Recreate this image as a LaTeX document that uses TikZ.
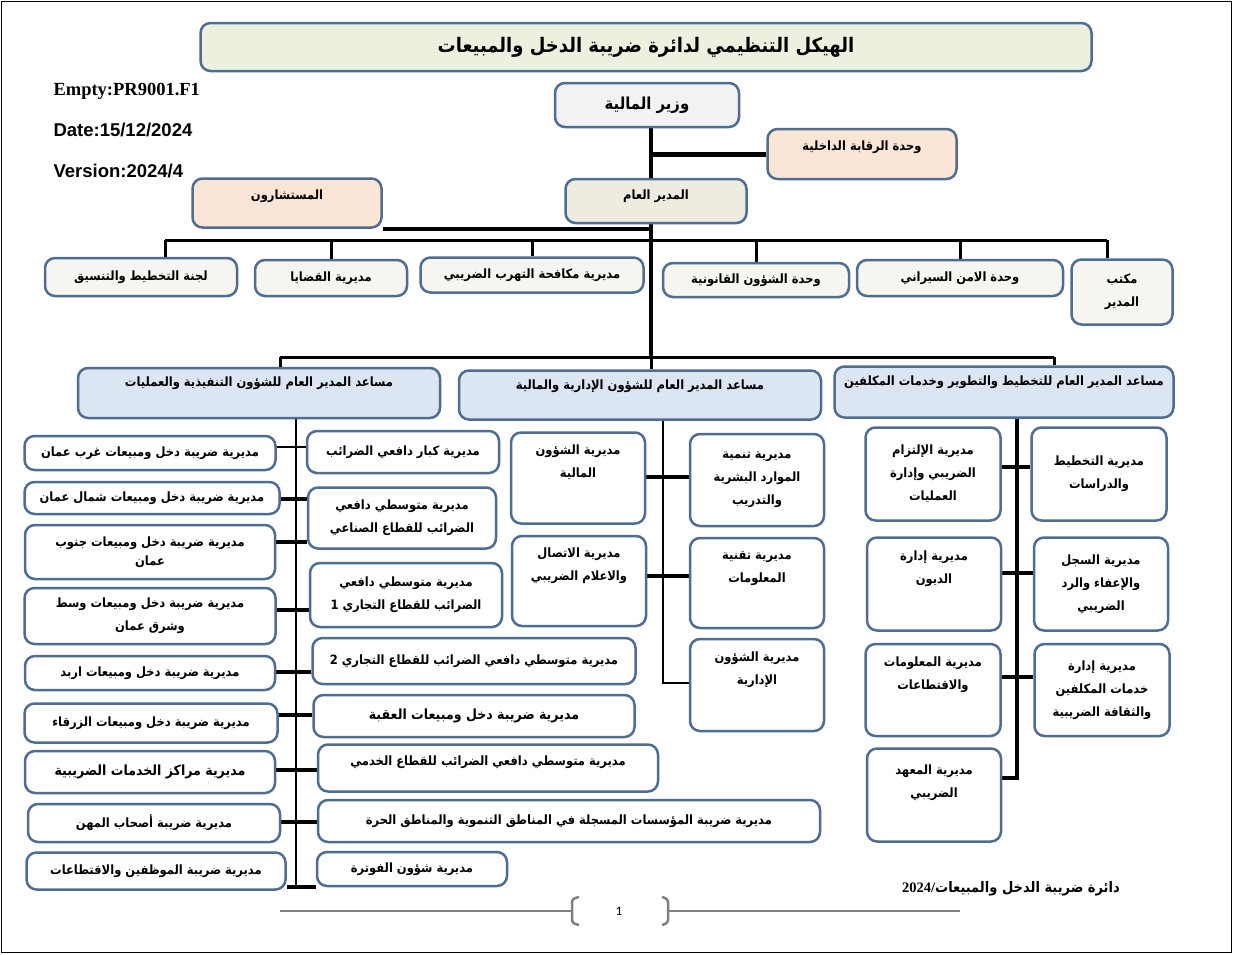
\documentclass[tikz,border=0pt]{standalone}
\usepackage{fontspec}
\setmainfont{Liberation Sans}
\newfontfamily\arabicfont[Script=Arabic, FakeStretch=0.9]{DejaVu Sans}
\newfontfamily\timesfont{Liberation Serif}
\newfontfamily\calfont{Carlito}
\TeXXeTstate=1
\usetikzlibrary{backgrounds}

\definecolor{boxline}{HTML}{4F6C91}
\definecolor{titlefill}{HTML}{EBF1DE}
\definecolor{ministerfill}{HTML}{F2F2F2}
\definecolor{peachfill}{HTML}{FBE5D6}
\definecolor{gdfill}{HTML}{EEECE1}
\definecolor{unitfill}{HTML}{F7F5EF}
\definecolor{asstfill}{HTML}{DCE6F2}
\definecolor{pagegray}{HTML}{808080}

\newcommand{\artext}[1]{\beginR #1\endR}
\newcommand{\boxfont}{\arabicfont\bfseries\fontsize{12.8}{23}\selectfont}
\newcommand{\bigboxfont}{\arabicfont\bfseries\fontsize{14}{23}\selectfont}

\tikzset{
  orgbox/.style={draw=boxline, line width=2.5pt, rounded corners=10pt, fill=white,
    align=center, inner sep=2pt, font=\boxfont},
  upper/.style={text depth=#1},
  upper/.default=33pt,
  link/.style={line width=3.5pt},
  bus/.style={line width=3pt},
}

\begin{document}
\begin{tikzpicture}[x=1pt,y=-1pt]
\useasboundingbox (0,0) rectangle (1237,954);
\draw[line width=1pt] (1,1) rectangle (1231,952);

% heading and reference texts
\node[orgbox, fill=titlefill, minimum width=891, minimum height=48,
  font=\arabicfont\bfseries\fontsize{20}{24}\selectfont] (title) at (646,47)
  {\artext{الهيكل التنظيمي لدائرة ضريبة الدخل والمبيعات}};
\node[anchor=west, font=\timesfont\bfseries\fontsize{18.5}{20}\selectfont] (docno) at (50,91) {Empty:PR9001.F1};
\node[anchor=west, font=\bfseries\fontsize{18.5}{20}\selectfont] (docdate) at (50,130) {Date:15/12/2024};
\node[anchor=west, font=\bfseries\fontsize{18.5}{20}\selectfont] (docver) at (50,171) {Version:2024/4};

% top management
\node[orgbox, fill=ministerfill, minimum width=184, minimum height=44,
  font=\arabicfont\bfseries\fontsize{16.5}{23}\selectfont] (minister) at (647,105) {\artext{وزير المالية}};
\node[orgbox, fill=peachfill, minimum width=189, minimum height=50, upper=16pt] (control) at (862,154) {\artext{وحدة الرقابة الداخلية}};
\node[orgbox, fill=gdfill, minimum width=181, minimum height=44, upper=12pt] (gd) at (656,201) {\artext{المدير العام}};
\node[orgbox, fill=peachfill, minimum width=189, minimum height=49, upper=16pt] (advisors) at (287,203) {\artext{المستشارون}};

% units under the director general
\node[orgbox, fill=unitfill, minimum width=192, minimum height=38] (u1) at (141,277) {\artext{لجنة التخطيط والتنسيق}};
\node[orgbox, fill=unitfill, minimum width=152, minimum height=36] (u2) at (331,278) {\artext{مديرية  القضايا}};
\node[orgbox, fill=unitfill, minimum width=223, minimum height=35] (u3) at (532,275) {\artext{مديرية مكافحة التهرب الضريبي}};
\node[orgbox, fill=unitfill, minimum width=186, minimum height=34] (u4) at (756,280) {\artext{وحدة الشؤون القانونية}};
\node[orgbox, fill=unitfill, minimum width=206, minimum height=36] (u5) at (960,278) {\artext{وحدة الامن السيراني}};
\node[orgbox, fill=unitfill, minimum width=101, minimum height=65] (u6) at (1122,292) {\artext{مكتب}\\\artext{المدير}};

% assistants
\node[orgbox, fill=asstfill, minimum width=362, minimum height=50, upper=22pt] (A1) at (259,393) {\artext{مساعد المدير العام للشؤون التنفيذية والعمليات}};
\node[orgbox, fill=asstfill, minimum width=362, minimum height=49, upper=20pt] (A2) at (640,395) {\artext{مساعد المدير العام للشؤون الإدارية والمالية}};
\node[orgbox, fill=asstfill, minimum width=339, minimum height=51, upper=22pt] (A3) at (1004,392) {\artext{مساعد المدير العام للتخطيط والتطوير وخدمات المكلفين}};

% executive affairs and operations
\node[orgbox, minimum width=251, minimum height=34] (L1) at (150,453) {\artext{مديرية ضريبة دخل ومبيعات غرب عمان}};
\node[orgbox, minimum width=255, minimum height=32] (L2) at (152,498) {\artext{مديرية ضريبة دخل ومبيعات شمال عمان}};
\node[orgbox, minimum width=250, minimum height=54] (L3) at (150,552) {\artext{مديرية ضريبة دخل ومبيعات جنوب}\\[-4pt]\artext{عمان}};
\node[orgbox, minimum width=251, minimum height=56] (L4) at (150,616) {\artext{مديرية ضريبة دخل ومبيعات وسط}\\\artext{وشرق عمان}};
\node[orgbox, minimum width=250, minimum height=34] (L5) at (150,673) {\artext{مديرية ضريبة دخل ومبيعات اربد}};
\node[orgbox, minimum width=253, minimum height=39] (L6) at (151,723) {\artext{مديرية ضريبة دخل ومبيعات الزرقاء}};
\node[orgbox, minimum width=250, minimum height=42, font=\bigboxfont] (L7) at (150,772) {\artext{مديرية مراكز الخدمات الضريبية}};
\node[orgbox, minimum width=252, minimum height=38] (L8) at (154,823) {\artext{مديرية ضريبة أصحاب المهن}};
\node[orgbox, minimum width=259, minimum height=37] (L9) at (156,871) {\artext{مديرية ضريبة الموظفين والاقتطاعات}};

\node[orgbox, minimum width=192, minimum height=42] (R1) at (403,452) {\artext{مديرية كبار دافعي الضرائب}};
\node[orgbox, minimum width=188, minimum height=61] (R2) at (402,518) {\artext{مديرية متوسطي دافعي}\\\artext{الضرائب للقطاع الصناعي}};
\node[orgbox, minimum width=192, minimum height=64] (R3) at (406,595) {\artext{مديرية متوسطي دافعي}\\\artext{الضرائب للقطاع التجاري 1}};
\node[orgbox, minimum width=323, minimum height=46] (R4) at (474,661) {\artext{مديرية متوسطي دافعي الضرائب للقطاع التجاري 2}};
\node[orgbox, minimum width=321, minimum height=42, font=\bigboxfont] (R5) at (474,716) {\artext{مديرية ضريبة دخل ومبيعات العقبة}};
\node[orgbox, minimum width=340, minimum height=47, upper=14pt] (R6) at (488,768) {\artext{مديرية متوسطي دافعي الضرائب للقطاع الخدمي}};
\node[orgbox, minimum width=502, minimum height=42] (R7) at (569,821) {\artext{مديرية ضريبة المؤسسات المسجلة في المناطق التنموية والمناطق الحرة}};
\node[orgbox, minimum width=190, minimum height=34] (R8) at (412,869) {\artext{مديرية شؤون الفوترة}};

% administrative and financial affairs
\node[orgbox, minimum width=134, minimum height=91, upper] (M1) at (578,478) {\artext{مديرية الشؤون}\\\artext{المالية}};
\node[orgbox, minimum width=134, minimum height=92] (M2) at (757,480) {\artext{مديرية تنمية}\\\artext{الموارد البشرية}\\\artext{والتدريب}};
\node[orgbox, minimum width=134, minimum height=90, upper] (M3) at (579,581) {\artext{مديرية الاتصال}\\\artext{والاعلام الضريبي}};
\node[orgbox, minimum width=134, minimum height=90, upper] (M4) at (757,583) {\artext{مديرية تقنية}\\\artext{المعلومات}};
\node[orgbox, minimum width=134, minimum height=92, upper] (M5) at (757,685) {\artext{مديرية الشؤون}\\\artext{الإدارية}};

% planning, development and taxpayer services
\node[orgbox, minimum width=135, minimum height=93] (P1) at (933,474) {\artext{مديرية الإلتزام}\\\artext{الضريبي وإدارة}\\\artext{العمليات}};
\node[orgbox, minimum width=135, minimum height=93] (P2) at (1099,474) {\artext{مديرية التخطيط}\\\artext{والدراسات}};
\node[orgbox, minimum width=134, minimum height=93, upper] (P3) at (934,584) {\artext{مديرية إدارة}\\\artext{الديون}};
\node[orgbox, minimum width=134, minimum height=93] (P4) at (1101,584) {\artext{مديرية السجل}\\\artext{والإعفاء والرد}\\\artext{الضريبي}};
\node[orgbox, minimum width=135, minimum height=92, upper] (P5) at (933,690) {\artext{مديرية المعلومات}\\\artext{والاقتطاعات}};
\node[orgbox, minimum width=135, minimum height=92] (P6) at (1102,690) {\artext{مديرية إدارة}\\\artext{خدمات المكلفين}\\\artext{والثقافة الضريبية}};
\node[orgbox, minimum width=134, minimum height=93, upper=28pt] (P7) at (934,795) {\artext{مديرية المعهد}\\\artext{الضريبي}};

% footer
\node[font=\bfseries\fontsize{14.5}{18}\selectfont] (foot) at (1011,889)
  {{\timesfont 2024/}{\arabicfont\artext{دائرة ضريبة الدخل والمبيعات}}};
\node[font=\calfont\fontsize{13}{15}\selectfont] (pageno) at (619,911) {1};
\coordinate (pgL) at (280,911);
\coordinate (pgR) at (960,911);
\draw[pagegray, line width=1.5pt] (pgL) -- ([xshift=-46]pageno.center);
\draw[pagegray, line width=1.5pt] ([xshift=49]pageno.center) -- (pgR);
\draw[pagegray, line width=2.5pt, rounded corners=3pt]
  ([xshift=-40,yshift=-14]pageno.center) -- ([xshift=-47,yshift=-12]pageno.center)
  -- ([xshift=-47,yshift=12]pageno.center) -- ([xshift=-40,yshift=14]pageno.center);
\draw[pagegray, line width=2.5pt, rounded corners=3pt]
  ([xshift=43,yshift=-14]pageno.center) -- ([xshift=49,yshift=-12]pageno.center)
  -- ([xshift=49,yshift=12]pageno.center) -- ([xshift=43,yshift=14]pageno.center);

% connectors
\begin{pgfonlayer}{background}
  \coordinate (trunk) at (651,357);
  \draw[link, line width=4.5pt] (minister.south -| trunk) -- (trunk);
  \draw[link, line width=5pt] (control.west) -- (control.west -| trunk);
  \draw[link] (advisors.south east) -- (advisors.south east -| trunk);
  % director general units
  \coordinate (busL) at (165,240);
  \coordinate (busR) at (1107,240);
  \draw[bus] (busL) -- (busR);
  \draw[bus] (busL) -- (busL |- u1.north);
  \foreach \u in {u2,u3,u4,u5}
    \draw[bus] (\u.north) -- (\u.north |- busL);
  \draw[bus] (busR) -- (busR |- u6.north);
  % assistants
  \coordinate (abL) at (280,357);
  \coordinate (abR) at (1054,357);
  \draw[bus] (abL) -- (abR);
  \draw[bus] (abL) -- (abL |- A1.north);
  \draw[bus] (trunk) -- (trunk |- A2.north);
  \draw[bus] (abR) -- (abR |- A3.north);
  % executive affairs spine
  \coordinate (spX) at (296,887);
  \draw[line width=2pt] (A1.south -| spX) -- (spX);
  \foreach \l/\r/\y/\w in {L1/R1/447/2, L2/R2/499/3.5, L3/R2/542/3.5, L4/R3/610/3.5,
                           L5/R4/672/3.5, L6/R5/715/3.5, L7/R6/770/3.5, L8/R7/822/3.5,
                           L9/R8/887/3.5} {
    \coordinate (tap) at (296,\y);
    \draw[line width=\w pt] (\l.east |- tap) -- (\r.west |- tap);
  }
  % administrative spine
  \coordinate (smX) at (663,683);
  \draw[line width=2.5pt] (A2.south -| smX) -- (smX) -- (M5.west |- smX);
  \foreach \l/\r/\y in {M1/M2/477, M3/M4/576} {
    \coordinate (tap) at (663,\y);
    \draw[link] (\l.east |- tap) -- (\r.west |- tap);
  }
  % planning spine
  \coordinate (ssX) at (1017,778);
  \draw[line width=4pt] (A3.south -| ssX) -- (ssX) -- (P7.east |- ssX);
  \foreach \l/\r/\y in {P1/P2/467, P3/P4/573, P5/P6/677} {
    \coordinate (tap) at (1017,\y);
    \draw[link] (\l.east |- tap) -- (\r.west |- tap);
  }
\end{pgfonlayer}
\end{tikzpicture}
\end{document}
